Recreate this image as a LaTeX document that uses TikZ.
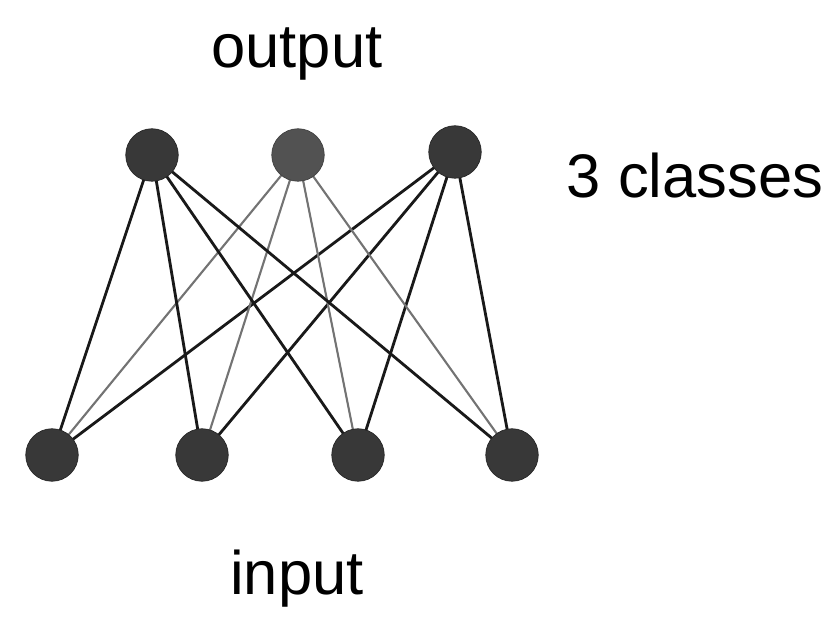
\documentclass[tikz,border=0pt]{standalone}
\usepackage{fontspec}
\setmainfont{Liberation Sans}
\usepackage{xcolor}
\usetikzlibrary{positioning, backgrounds}

\begin{document}
\begin{tikzpicture}[
  unit/.style = {
    circle, draw=black!85, fill=black!78,
    minimum size=1.05cm, inner sep=0pt},
  midunit/.style = {
    unit, fill=black!68, draw=black!75},
  wire/.style = {line width=1.6pt, black!90},
  faintwire/.style = {line width=1.2pt, black!55},
  lbl/.style = {font=\fontsize{35}{40}\selectfont, anchor=base}
]
\useasboundingbox (0,0) rectangle (16.8,12.5);

%── Output layer ─────────────────────────────────────────────────
\node[unit]    (o1) at (3.04, 9.40) {};
\node[midunit] (o2) at (5.96, 9.40) {};
\node[unit]    (o3) at (9.10, 9.46) {};

%── Input layer ──────────────────────────────────────────────────
\node[unit] (i1) at (1.04, 3.40) {};
\node[unit] (i2) at (4.04, 3.40) {};
\node[unit] (i3) at (7.16, 3.40) {};
\node[unit] (i4) at (10.24, 3.40) {};

%── Full connections ─────────────────────────────────────────────
\begin{scope}[on background layer]
  \foreach \i in {1,...,4} {
    \draw[wire]      (o1.center) -- (i\i.center);
    \draw[faintwire] (o2.center) -- (i\i.center);
    \draw[wire]      (o3.center) -- (i\i.center);
  }
\end{scope}

%── Labels ───────────────────────────────────────────────────────
\node[lbl] (outlbl) at (5.94, 11.14) {output};
\node[lbl] (clslbl) at (13.90, 8.54) {3 classes};
\node[lbl] (inlbl)  at (5.94, 0.60)  {input};

\end{tikzpicture}
\end{document}
